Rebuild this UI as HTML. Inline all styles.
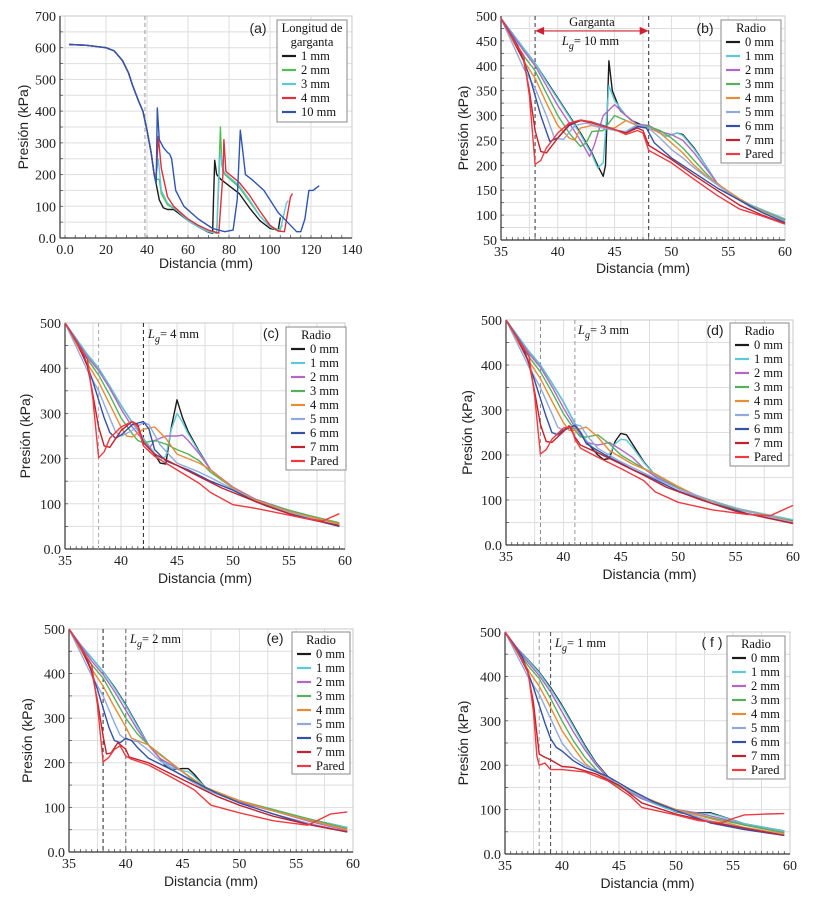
<!DOCTYPE html>
<html><head><meta charset="utf-8">
<style>
html,body{margin:0;padding:0;background:#fff;}
svg{display:block;}
.tk{font-family:"Liberation Serif",serif;font-size:14px;fill:#222;}
.ax{font-family:"Liberation Sans",sans-serif;font-size:14px;fill:#222;}
.lg{font-family:"Liberation Serif",serif;font-size:12.5px;fill:#111;}
</style></head>
<body>
<svg id="fig" width="816" height="903" viewBox="0 0 816 903" xmlns="http://www.w3.org/2000/svg"></svg>
<script>
// ---------- DATA ----------
const radioLabels = ["0 mm","1 mm","2 mm","3 mm","4 mm","5 mm","6 mm","7 mm","Pared"];
const gargLabels = ["1 mm","2 mm","3 mm","4 mm","10 mm"];

// Panel (a): throat-length series
const a_1mm = [[2,610],[10,608],[20,600],[24,590],[28,560],[31,520],[33,480],[36,430],[38,400],[40,340],[42,270],[43.5,200],[44.5,170],[46,120],[48,95],[50,90],[53,90],[55,80],[60,55],[65,35],[70,18],[72,15],[72.5,130],[73,245],[74,200],[76,185],[80,165],[85,140],[90,95],[95,55],[100,30],[104,25],[105,65]];
const a_2mm = [[2,610],[10,608],[20,600],[24,590],[28,560],[31,520],[33,480],[36,430],[38,400],[40,340],[42,270],[43.5,200],[44.5,185],[46,185],[47,140],[50,105],[55,85],[60,55],[65,35],[70,20],[74,15],[75,200],[75.8,350],[76.5,230],[78,200],[85,160],[90,115],[95,70],[100,35],[104,22],[106,40]];
const a_3mm = [[2,610],[10,608],[20,600],[24,590],[28,560],[31,520],[33,480],[36,430],[38,400],[40,340],[42,270],[43.5,200],[44.5,200],[45.5,250],[47,150],[50,110],[55,85],[60,55],[65,35],[70,20],[74,15],[75.5,250],[76,270],[77,210],[85,165],[90,120],[95,70],[100,35],[105,25],[108,110],[109,118]];
const a_4mm = [[2,610],[10,608],[20,600],[24,590],[28,560],[31,520],[33,480],[36,430],[38,400],[40,340],[42,270],[43.5,200],[44.5,200],[45.5,320],[47,220],[50,130],[53,100],[60,60],[65,40],[70,25],[75,15],[77,200],[77.5,310],[78.5,210],[85,175],[90,135],[95,85],[100,40],[104,22],[107,20],[110,130],[111,140]];
const a_10mm = [[2,610],[10,608],[20,600],[24,590],[28,560],[31,520],[33,480],[36,430],[38,400],[40,340],[42,270],[43.5,200],[44.5,170],[45,410],[46,310],[48,285],[50,270],[51,265],[52,250],[54,150],[58,100],[65,60],[72,30],[78,20],[82,25],[84,120],[85.5,340],[87,260],[88,200],[91,185],[97,150],[100,120],[104,80],[110,40],[113,20],[115,20],[117,60],[119,150],[121,150],[124,165]];

// Panel (b): Lg = 10 mm
const b_0 = [[35,495],[36,465],[37,435],[38,405],[39,370],[40,335],[41,300],[42,265],[43,225],[43.5,200],[44,178],[44.2,200],[44.5,410],[44.8,350],[45.5,310],[46.5,290],[47.5,280],[48,280],[49,265],[49.5,258],[50.5,265],[51,262],[52,235],[53,200],[54,165],[55,145],[57,120],[60,92]];
const b_1 = [[35,495],[36,465],[37,435],[38,405],[39,368],[40,333],[41,298],[42,262],[43,222],[43.5,195],[44,205],[44.5,360],[45,330],[46,300],[47,282],[48,280],[49,265],[49.5,258],[50.5,265],[51,260],[52,233],[53,200],[54,165],[55,145],[57,120],[60,92]];
const b_2 = [[35,495],[37,430],[38,400],[39,360],[40,320],[41,285],[42,250],[42.8,218],[43.2,240],[44,300],[45,322],[46,300],[47,282],[48,280],[49,268],[50,262],[51,250],[52,225],[53,195],[54,165],[55,145],[57,118],[60,90]];
const b_3 = [[35,495],[37,420],[38,390],[39,345],[40,300],[41,265],[42,238],[42.5,245],[43,268],[44,270],[45,300],[46,290],[47,280],[48,278],[49,270],[50,255],[51,235],[52,210],[53,185],[54,162],[55,145],[57,118],[60,90]];
const b_4 = [[35,495],[37,410],[38,375],[39,325],[40,280],[41,255],[41.5,250],[42,275],[43,280],[44,275],[45,275],[46,290],[47,280],[48,275],[49,265],[50,245],[51,225],[52,200],[53,180],[55,148],[57,118],[60,88]];
const b_5 = [[35,495],[37,395],[38,355],[39,300],[39.7,255],[40.5,252],[41.5,280],[42.5,285],[44,275],[45,270],[46,268],[47,282],[48,275],[49,255],[50,232],[51,215],[52,195],[53,178],[55,145],[57,115],[60,88]];
const b_6 = [[35,495],[36.5,440],[37.5,380],[38.5,300],[39.3,248],[40,255],[41,280],[42,290],[43,287],[44,280],[45,272],[46,265],[47,278],[47.8,275],[48.5,245],[50,215],[52,185],[54,155],[56,130],[58,105],[60,85]];
const b_7 = [[35,495],[36,455],[37,410],[37.5,350],[38,270],[38.5,228],[39,225],[40,255],[41,282],[42,290],[43,285],[44,278],[45,272],[46,265],[47,275],[47.5,270],[48,240],[50,212],[52,180],[54,150],[56,120],[58,100],[60,83]];
const b_P = [[35,495],[36,455],[37,420],[37.5,340],[38,202],[38.5,210],[39,235],[40,265],[41,285],[42,291],[43,287],[44,278],[45,272],[46,262],[47,270],[47.5,265],[48,230],[50,205],[52,172],[54,140],[56,112],[58,98],[60,82]];

// Panel (c): Lg = 4 mm
const c_0 = [[35,500],[36,465],[37,430],[38,400],[39,360],[40,318],[41,280],[42,245],[43,210],[43.5,190],[44,188],[44.5,270],[45,330],[45.5,290],[46,260],[47,215],[48,175],[49,155],[50,135],[52,110],[55,85],[59.5,55]];
const c_1 = [[35,500],[36,465],[37,430],[38,400],[39,360],[40,318],[41,280],[42,245],[43,212],[43.5,198],[44,205],[44.5,265],[45,300],[45.5,280],[46,255],[47,213],[48,175],[49,155],[50,135],[52,110],[55,86],[59.5,56]];
const c_2 = [[35,500],[37,425],[38,395],[39,355],[40,310],[41,270],[42,240],[42.5,222],[43,240],[44,250],[45,250],[45.5,252],[46,240],[47,210],[48,175],[50,137],[52,110],[55,85],[59.5,55]];
const c_3 = [[35,500],[37,420],[38,385],[39,340],[40,290],[41,255],[41.5,240],[42,235],[43,240],[44,232],[45,220],[46,210],[47,195],[48,170],[50,135],[52,108],[55,85],[59.5,58]];
const c_4 = [[35,500],[37,410],[38,370],[39,320],[40,270],[40.5,250],[41,248],[42,265],[43,270],[44,245],[45,210],[46,200],[47,190],[48,175],[50,135],[52,108],[55,83],[59.5,55]];
const c_5 = [[35,500],[37,395],[38,350],[39,290],[39.5,260],[40,250],[41,262],[42,280],[42.5,275],[43.5,230],[45,190],[46,180],[47,170],[48,158],[50,132],[52,105],[55,80],[59.5,52]];
const c_6 = [[35,500],[36.5,440],[37.5,370],[38.5,290],[39,258],[39.5,245],[40,252],[41,275],[42,282],[42.5,265],[43,220],[44,195],[46,175],[48,150],[50,130],[52,105],[55,78],[59.5,50]];
const c_7 = [[35,500],[36,460],[37,405],[37.5,340],[38,270],[38.5,228],[39,225],[40,262],[41,282],[41.5,275],[42,235],[43,210],[45,185],[47,160],[49,135],[51,115],[53,95],[56,70],[59.5,52]];
const c_P = [[35,500],[36,458],[37,420],[37.5,330],[38,202],[38.5,215],[39,245],[40,270],[41,282],[41.5,270],[42,228],[43,205],[45,175],[47,145],[48,125],[50,98],[52,90],[54,80],[56,70],[58,62],[59.5,78]];

// Panel (d): Lg = 3 mm
const d_0 = [[35,500],[37,430],[38,400],[39,360],[40,318],[41,270],[42,230],[43,200],[43.5,190],[44,192],[44.5,230],[45,248],[45.5,245],[46,225],[47,185],[48,155],[50,125],[52,105],[55,80],[60,55]];
const d_1 = [[35,500],[37,430],[38,400],[39,360],[40,318],[41,270],[42,232],[43,205],[43.5,198],[44,202],[44.5,225],[45,235],[45.5,233],[46,218],[47,183],[48,155],[50,125],[52,106],[55,82],[60,56]];
const d_2 = [[35,500],[37,425],[38,395],[39,352],[40,305],[41,262],[42,228],[43,222],[44,228],[45,212],[46,195],[47,170],[48,152],[50,125],[52,105],[55,80],[60,52]];
const d_3 = [[35,500],[37,418],[38,385],[39,340],[40,292],[41,255],[41.5,240],[42,240],[43,245],[44,225],[45,200],[46,185],[47,170],[48,158],[50,128],[52,105],[55,80],[60,52]];
const d_4 = [[35,500],[37,408],[38,370],[39,320],[40,272],[40.5,255],[41,255],[42,262],[43,240],[44,210],[46,180],[48,158],[50,130],[52,105],[55,82],[60,52]];
const d_5 = [[35,500],[37,395],[38,350],[39,292],[39.5,262],[40,255],[41,268],[41.5,265],[42,245],[43,215],[45,185],[47,160],[50,125],[53,98],[56,75],[60,50]];
const d_6 = [[35,500],[36.5,440],[37.5,365],[38.5,285],[39,250],[39.5,245],[40,255],[41,266],[41.5,250],[42,225],[44,195],[46,168],[48,145],[50,120],[53,92],[56,70],[60,48]];
const d_7 = [[35,500],[36,458],[37,405],[37.5,340],[38,268],[38.5,230],[39,228],[40,252],[40.5,265],[41,240],[41.5,222],[43,205],[45,180],[47,155],[49,128],[52,100],[55,75],[60,48]];
const d_P = [[35,500],[36,458],[37,420],[37.5,330],[38,202],[38.5,212],[39,235],[40,260],[40.7,262],[41,235],[41.5,215],[43,195],[45,170],[47,143],[48,118],[50,95],[53,78],[56,68],[58,65],[60,88]];

// Panel (e): Lg = 2 mm
const e_0 = [[35,500],[36,465],[37,435],[38,405],[39,370],[40,330],[41,285],[42,240],[43,210],[43.5,193],[44,185],[45,187],[45.5,187],[46,175],[47,145],[48,132],[50,115],[52,100],[55,80],[59.5,55]];
const e_1 = [[35,500],[36,465],[37,435],[38,405],[39,368],[40,328],[41,283],[42,240],[43,210],[44,190],[45,182],[45.5,180],[46,170],[47,145],[48,132],[50,115],[52,100],[55,80],[59.5,55]];
const e_2 = [[35,500],[37,428],[38,398],[39,360],[40,318],[41,275],[42,240],[43,210],[44,195],[45,180],[46,160],[47,142],[50,112],[53,92],[56,70],[59.5,48]];
const e_3 = [[35,500],[37,420],[38,390],[39,345],[40,300],[41,265],[42,240],[43,220],[44,200],[45,180],[46,160],[47,142],[50,115],[53,95],[56,75],[59.5,52]];
const e_4 = [[35,500],[37,410],[38,372],[39,325],[40,280],[40.5,255],[41,250],[42,240],[43,218],[45,180],[47,145],[50,115],[53,92],[56,72],[59.5,50]];
const e_5 = [[35,500],[37,395],[38,350],[39,290],[39.5,262],[40,252],[41,248],[42,228],[43,205],[45,170],[47,140],[50,110],[53,85],[56,65],[59.5,45]];
const e_6 = [[35,500],[36.5,440],[37.5,365],[38.5,280],[39,250],[39.5,245],[40,255],[40.5,250],[41,235],[42,210],[44,185],[46,158],[48,132],[50,110],[53,85],[56,62],[59.5,45]];
const e_7 = [[35,500],[36,460],[37,405],[37.5,340],[38,260],[38.3,220],[38.7,222],[39.3,245],[40,230],[40.3,213],[42,200],[44,175],[46,150],[48,125],[50,105],[53,80],[56,62],[59.5,45]];
const e_P = [[35,500],[36,458],[37,420],[37.5,330],[38,202],[38.5,212],[39,230],[39.5,238],[40,215],[40.5,208],[42,195],[44,168],[46,140],[47.5,105],[50,88],[53,70],[56,60],[58,85],[59.5,90]];

// Panel (f): Lg = 1 mm
const f_0 = [[35,500],[36,465],[37,438],[38,410],[39,375],[40,335],[41,290],[42,245],[43,205],[44,175],[45,152],[47,125],[49,105],[50,95],[51,90],[52,93],[53,93],[54,85],[56,68],[59.5,52]];
const f_1 = [[35,500],[36,465],[37,437],[38,408],[39,372],[40,332],[41,287],[42,242],[43,203],[44,173],[45,152],[47,124],[49,104],[50,96],[51,91],[52,92],[53,91],[54,84],[56,68],[59.5,52]];
const f_2 = [[35,500],[37,432],[38,402],[39,365],[40,320],[41,275],[42,235],[43,200],[44,172],[45,152],[47,125],[50,100],[52,92],[54,80],[56,65],[59.5,48]];
const f_3 = [[35,500],[37,425],[38,395],[39,350],[40,300],[41,255],[42,218],[43,190],[44,168],[45,152],[47,128],[50,100],[53,82],[56,65],[59.5,48]];
const f_4 = [[35,500],[37,415],[38,378],[39,330],[40,278],[41,240],[42,205],[43,185],[45,155],[47,130],[50,100],[53,80],[56,60],[59.5,45]];
const f_5 = [[35,500],[37,400],[38,360],[39,305],[40,250],[41,218],[42,200],[43,188],[45,155],[47,128],[50,98],[53,75],[56,58],[59.5,43]];
const f_6 = [[35,500],[36.5,445],[37.5,375],[38.5,295],[39,260],[39.5,240],[40,232],[41,210],[42,195],[44,175],[46,145],[48,118],[50,98],[53,70],[56,55],[59.5,42]];
const f_7 = [[35,500],[36,460],[37,410],[37.5,340],[37.8,270],[38,225],[38.5,218],[39,212],[40,197],[41,195],[43,180],[45,155],[46,135],[47,115],[50,90],[53,72],[56,58],[59.5,42]];
const f_P = [[35,500],[36,460],[37,415],[37.5,320],[37.8,220],[38,200],[38.5,205],[39,190],[40,190],[42,185],[44,165],[46,130],[47,105],[50,88],[52,75],[54,70],[55,80],[56,88],[58,90],[59.5,91]];

const xTicksA = [0,20,40,60,80,100,120,140];
const yTicksA = [0,100,200,300,400,500,600,700];
const xTicksR = [35,40,45,50,55,60];
const yTicksB = [50,100,150,200,250,300,350,400,450,500];
const yTicksR = [0,100,200,300,400,500];

// ---------- RENDER ----------
const NS = "http://www.w3.org/2000/svg";
const svg = document.getElementById('fig');
const radColors = ["#1b1b1b","#5cc9da","#b466c4","#55b25a","#e88c35","#92a9dc","#3352a6","#c5202e","#ee3a40"];
const garColors = ["#1b1b1b","#4fbf4f","#5cc9da","#e0303a","#2f55b0"];

function mk(tag, attrs, parent){
  const e = document.createElementNS(NS, tag);
  for (const k in attrs) e.setAttribute(k, attrs[k]);
  (parent||svg).appendChild(e);
  return e;
}
function fmt(v, zeroDot){ return (v===0 && zeroDot) ? "0.0" : String(v); }

function panel(cfg){
  const g = mk('g', {});
  
  
  const sx = v => cfg.px0 + (v - cfg.x0) / (cfg.x1 - cfg.x0) * (cfg.px1 - cfg.px0);
  const sy = v => cfg.py0 + (v - cfg.y0) / (cfg.y1 - cfg.y0) * (cfg.py1 - cfg.py0);
  const L = cfg.frameL, R = cfg.px1, T = cfg.py1, B = cfg.py0;
  // grid
  for (let v = cfg.x0; v <= cfg.x1 + 1e-9; v += cfg.gridX) {
    const l = mk('line', {x1:sx(v),x2:sx(v),y1:T,y2:B,stroke:"#dedede","stroke-width":1}, g);
     
  }
  for (let v = cfg.x0; v <= cfg.x1 + 1e-9; v += cfg.minorX) {
    mk('line', {x1:sx(v),x2:sx(v),y1:B,y2:B-3,stroke:"#555","stroke-width":0.8}, g);
  }
  for (let v = cfg.y0; v <= cfg.y1 + 1e-9; v += cfg.gridY) {
    const l = mk('line', {x1:L,x2:R,y1:sy(v),y2:sy(v),stroke:"#dedede","stroke-width":1}, g);
     
  }
  for (let v = cfg.y0; v <= cfg.y1 + 1e-9; v += cfg.minorY) {
    mk('line', {x1:L,x2:L+3,y1:sy(v),y2:sy(v),stroke:"#555","stroke-width":0.8}, g);
  }
  mk('rect', {x:L,y:T,width:R-L,height:B-T,fill:"none",stroke:"#c8c8c8","stroke-width":1}, g);
  const xa = mk('line', {x1:L,x2:R,y1:B,y2:B,stroke:"#333","stroke-width":1.2}, g);
   
  const ya = mk('line', {x1:L,x2:L,y1:T,y2:B,stroke:"#333","stroke-width":1.2}, g);
   
  cfg.xt.forEach(v => {
    const t = mk('text', {x:sx(v), y:B+16, "text-anchor":"middle", class:"tk"}, g);
    t.textContent = fmt(v, cfg.zeroDot);
     
  });
  cfg.yt.forEach(v => {
    const t = mk('text', {x:L-4, y:sy(v)+5, "text-anchor":"end", class:"tk"}, g);
    t.textContent = fmt(v, true);
     
  });
  (cfg.dashes||[]).forEach(d => {
    const l = mk('line', {x1:sx(d[0]),x2:sx(d[0]),y1:T,y2:B,stroke:d[1],"stroke-width":1,"stroke-dasharray":"4,3"}, g);
     
  });
  cfg.series.forEach((s, i) => {
    const d = s.map((p, j) => (j ? 'L' : 'M') + sx(p[0]).toFixed(1) + ',' + sy(p[1]).toFixed(1)).join(' ');
    const p = mk('path', {d:d, fill:"none", stroke:cfg.colors[i], "stroke-width":1.4, "stroke-linejoin":"round"}, g);
    
    
  });
  const xt = mk('text', {x:(L+R)/2, y:cfg.xTitleY, "text-anchor":"middle", class:"ax"}, g);
  xt.textContent = "Distancia (mm)";
   
  const yt = mk('text', {x:0, y:0, "text-anchor":"middle", class:"ax", transform:`translate(${cfg.yTitleX},${(T+B)/2}) rotate(-90)`}, g);
  yt.textContent = "Presión (kPa)";
   
  const pl = mk('text', {x:cfg.lab[0], y:cfg.lab[1], "text-anchor":"middle", class:"ax"}, g);
  pl.textContent = cfg.labText;
   
  const lg = cfg.leg;
  const lgG = mk('g', {}, g);
   
  mk('rect', {x:lg.x, y:lg.y, width:lg.w, height:lg.h, fill:"#fff", stroke:"#888", "stroke-width":1}, lgG);
  lg.title.forEach((tl, k) => {
    const t = mk('text', {x:lg.x+lg.w/2, y:lg.y+12+k*14, "text-anchor":"middle", class:"lg"}, lgG);
    t.textContent = tl;
     
  });
  cfg.labels.forEach((lab, i) => {
    const yy = lg.y + 12 + lg.title.length*14 + i*lg.step;
    mk('line', {x1:lg.x+5, x2:lg.x+19, y1:yy-4, y2:yy-4, stroke:cfg.colors[i], "stroke-width":2.2}, lgG);
    const t = mk('text', {x:lg.x+24, y:yy, class:"lg"}, lgG);
    t.textContent = lab;
     
  });
  if (cfg.lg) {
    const t = mk('text', {x:cfg.lg[0], y:cfg.lg[1], class:"lg", "font-size":"14"}, g);
    t.innerHTML = '<tspan font-style="italic">L</tspan><tspan font-style="italic" dy="4" font-size="10">g</tspan><tspan dy="-4">= ' + cfg.lgText + '</tspan>';
     
  }
  return {g, sx, sy};
}

panel({id:'a', x0:0,x1:140,y0:0,y1:700, px0:65,px1:352,py0:238,py1:16, frameL:60, minorX:5, minorY:50, gridX:20, gridY:50,
  xt:xTicksA, yt:yTicksA, zeroDot:true, series:[a_1mm,a_2mm,a_3mm,a_4mm,a_10mm], colors:garColors, labels:gargLabels,
  dashes:[[39,"#999"]], xTitleY:268, yTitleX:28, lab:[258,33], labText:"(a)",
  leg:{x:277,y:20,w:70,h:102,title:["Longitud de","garganta"],step:14}});

const pb = panel({id:'b', x0:35,x1:60,y0:50,y1:500, px0:501,px1:785,py0:240,py1:16, frameL:501, minorX:0.5, minorY:25, gridX:2.5, gridY:25,
  xt:xTicksR, yt:yTicksB, series:[b_0,b_1,b_2,b_3,b_4,b_5,b_6,b_7,b_P], colors:radColors, labels:radioLabels,
  dashes:[[38,"#333"],[48,"#333"]], xTitleY:273, yTitleX:468, lab:[705,33], labText:"(b)",
  leg:{x:721,y:20,w:60,h:143,title:["Radio"],step:14}});
(function(){
  const g = pb.g, y = pb.sy(470), xa = pb.sx(38), xb = pb.sx(48);
  const ar = mk('g', {}, g);
   
  mk('line', {x1:xa+6,x2:xb-6,y1:y,y2:y,stroke:"#d02030","stroke-width":1.2}, ar);
  mk('polygon', {points:`${xa},${y} ${xa+9},${y-4} ${xa+9},${y+4}`, fill:"#d02030"}, ar);
  mk('polygon', {points:`${xb},${y} ${xb-9},${y-4} ${xb-9},${y+4}`, fill:"#d02030"}, ar);
  const t = mk('text', {x:(xa+xb)/2, y:y-5, "text-anchor":"middle", class:"lg", "font-size":"14"}, g);
  t.textContent = "Garganta";
   
  const t2 = mk('text', {x:(xa+xb)/2-30, y:y+14, class:"lg", "font-size":"14"}, g);
  t2.innerHTML = '<tspan font-style="italic">L</tspan><tspan font-style="italic" dy="4" font-size="10">g</tspan><tspan dy="-4">= 10 mm</tspan>';
   
})();

panel({id:'c', x0:35,x1:60,y0:0,y1:500, px0:65,px1:345,py0:549,py1:323, frameL:65, minorX:0.5, minorY:50, gridX:2.5, gridY:50,
  xt:xTicksR, yt:yTicksR, series:[c_0,c_1,c_2,c_3,c_4,c_5,c_6,c_7,c_P], colors:radColors, labels:radioLabels,
  dashes:[[38,"#aaa"],[42,"#222"]], xTitleY:583, yTitleX:30, lab:[271,338], labText:"(c)", lg:[148,338], lgText:"4 mm",
  leg:{x:286,y:327,w:60,h:143,title:["Radio"],step:14}});

panel({id:'d', x0:35,x1:60,y0:0,y1:500, px0:506,px1:793,py0:545,py1:320, frameL:506, minorX:0.5, minorY:50, gridX:2.5, gridY:50,
  xt:xTicksR, yt:yTicksR, series:[d_0,d_1,d_2,d_3,d_4,d_5,d_6,d_7,d_P], colors:radColors, labels:radioLabels,
  dashes:[[38,"#888"],[41,"#999"]], xTitleY:579, yTitleX:472, lab:[715,335], labText:"(d)", lg:[578,334], lgText:"3 mm",
  leg:{x:730,y:323,w:59,h:143,title:["Radio"],step:14}});

panel({id:'e', x0:35,x1:60,y0:0,y1:500, px0:69,px1:353,py0:852,py1:629, frameL:69, minorX:0.5, minorY:50, gridX:2.5, gridY:50,
  xt:xTicksR, yt:yTicksR, series:[e_0,e_1,e_2,e_3,e_4,e_5,e_6,e_7,e_P], colors:radColors, labels:radioLabels,
  dashes:[[38,"#222"],[40,"#666"]], xTitleY:886, yTitleX:32, lab:[275,643], labText:"(e)", lg:[130,643], lgText:"2 mm",
  leg:{x:292,y:632,w:58,h:142,title:["Radio"],step:14}});

panel({id:'f', x0:35,x1:60,y0:0,y1:500, px0:505,px1:790,py0:854,py1:632, frameL:505, minorX:0.5, minorY:50, gridX:2.5, gridY:50,
  xt:xTicksR, yt:yTicksR, series:[f_0,f_1,f_2,f_3,f_4,f_5,f_6,f_7,f_P], colors:radColors, labels:radioLabels,
  dashes:[[38,"#999"],[39,"#444"]], xTitleY:888, yTitleX:468, lab:[712,647], labText:"( f )", lg:[555,647], lgText:"1 mm",
  leg:{x:727,y:636,w:58,h:143,title:["Radio"],step:14}});
</script>
</body></html>
